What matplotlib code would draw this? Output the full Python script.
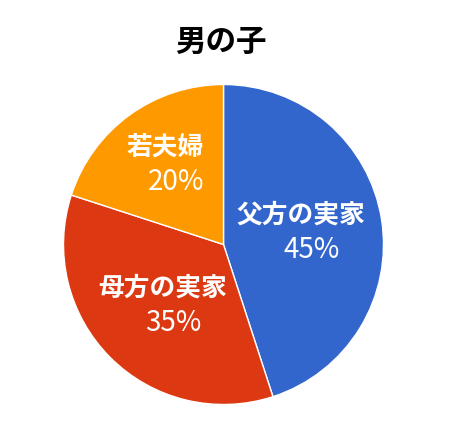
import numpy as np
import matplotlib
matplotlib.use('Agg')
import matplotlib.pyplot as plt

plt.rcParams['font.family'] = ['Noto Sans CJK JP', 'DejaVu Sans']

# データ
title = '男の子'
labels = ['父方の実家', '母方の実家', '若夫婦']
values = [45, 35, 20]
colors = ['#3366CC', '#DC3912', '#FF9900']
label_r = [0.49, 0.54, 0.62]

fig = plt.figure(figsize=(4.5, 4.3), dpi=100)
ax = fig.add_axes([63.5 / 450, 25.5 / 430, 320 / 450, 320 / 430])

wedges, _ = ax.pie(values, colors=colors, startangle=90, counterclock=False,
                   radius=1.0, wedgeprops=dict(edgecolor='white', linewidth=1))
ax.set_xlim(-1, 1)
ax.set_ylim(-1, 1)
ax.set_aspect('equal')
ax.axis('off')

total = sum(values)
for w, lab, v, r in zip(wedges, labels, values, label_r):
    mid = np.deg2rad((w.theta1 + w.theta2) / 2)
    x, y = r * np.cos(mid), r * np.sin(mid)
    ax.text(x, y + 0.11, lab, ha='center', va='center', color='white',
            fontsize=18.5, fontweight='semibold')
    # パーセントは少し右寄り
    ax.text(x + 0.07, y - 0.11, '%d%%' % round(100 * v / total), ha='center', va='center',
            color='white', fontsize=20)

fig.text(0.49, 1 - 42 / 430, title, ha='center', va='center', fontsize=22,
         fontweight='bold', color='black')

plt.savefig('out.png', dpi=100)
